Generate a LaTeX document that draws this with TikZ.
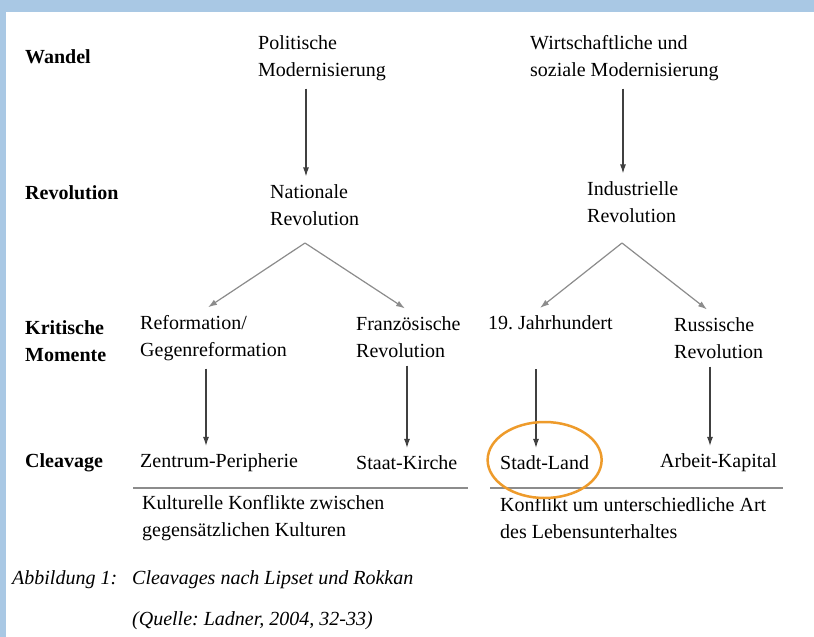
\documentclass[tikz,border=0pt]{standalone}
\usepackage{fontspec}
\IfFontExistsTF{LiberationSerif-Regular.ttf}
	{\setmainfont{LiberationSerif}[Extension=.ttf, UprightFont=*-Regular, BoldFont=*-Bold, ItalicFont=*-Italic, BoldItalicFont=*-BoldItalic]}
	{\setmainfont{Liberation Serif}}
\usepackage{tikz}
\usetikzlibrary{arrows,arrows.meta}

\definecolor{framebg}{HTML}{A9C8E4}
\definecolor{ringorange}{HTML}{EE9B2B}

\frenchspacing

\begin{document}
\begin{tikzpicture}[x=1pt,y=-1pt]

	\tikzstyle row labels=[anchor=west, inner sep=0pt, align=left, font=\fontsize{20}{27}\selectfont\bfseries];
	\tikzstyle item text=[anchor=west, inner sep=0pt, outer ysep=8pt, align=left, font=\fontsize{20}{27}\selectfont];
	\tikzstyle caption text=[anchor=west, inner sep=0pt, font=\fontsize{20}{27}\selectfont\itshape];
	\tikzstyle flow arrows=[-{Latex[length=9pt,width=6pt]}, draw=black!75, line width=1.2pt];
	\tikzstyle fork arrows=[-{Latex[length=9pt,width=6pt]}, draw=black!45, line width=1.2pt];
	\tikzstyle rule lines=[draw=black!45, line width=1.5pt];

	% frame
	\useasboundingbox (0,0) rectangle (814,637);
	\fill[white] (0,0) rectangle (814,637);
	\fill[framebg] (0,0) rectangle (814,12);
	\fill[framebg] (0,0) rectangle (6,637);

	% row labels
	\foreach \y/\nm/\txt in {57/wandel/Wandel,193/revol/Revolution,341/krit/{Kritische\\Momente},463/cleav/Cleavage}
		\node[row labels] (\nm) at (25,\y) {\txt};

	% Wandel / Revolution
	\node[item text] (polmod) at (258,58) {Politische\\Modernisierung};
	\node[item text] (wirtmod) at (530,58) {Wirtschaftliche und\\soziale Modernisierung};
	\node[item text] (natrev) at (270,205) {Nationale\\Revolution};
	\node[item text] (indrev) at (587,202) {Industrielle\\Revolution};

	% kritische Momente
	\node[item text] (reform) at (140,338) {Reformation/\\Gegenreformation};
	\node[item text] (franzrev) at (356,337) {Französische\\Revolution};
	\node[item text] (jahrh) at (488,323) {19. Jahrhundert};
	\node[item text] (russrev) at (674,338) {Russische\\Revolution};

	% cleavages
	\foreach \x/\nm/\txt in {140/zentrum/Zentrum-Peripherie,356/staat/Staat-Kirche,500/stadt/Stadt-Land,660/arbeit/Arbeit-Kapital}
		\node[item text] (\nm) at (\x,463) {\txt};

	\node[item text] (kultur) at (142,518) {Kulturelle Konflikte zwischen\\gegensätzlichen Kulturen};
	\node[item text] (lebens) at (500,518) {Konflikt um unterschiedliche Art\\des Lebensunterhaltes};

	% caption
	\node[caption text] (capnum) at (12,580) {Abbildung 1:};
	\node[caption text] (captxt) at (132,580) {Cleavages nach Lipset und Rokkan};
	\node[caption text] (quelle) at (132,621) {(Quelle: Ladner, 2004, 32-33)};

	% arrows
	\draw[flow arrows] ([xshift=48pt]polmod.south west) -- ([xshift=36pt]natrev.north west);
	\draw[flow arrows] ([xshift=93pt]wirtmod.south west) -- ([xshift=36pt]indrev.north west);

	\coordinate (natfork) at (305,243);
	\coordinate (indfork) at (622,243);
	\draw[fork arrows] (natfork) -- ([xshift=68pt]reform.north west);
	\draw[fork arrows] (natfork) -- ([xshift=49pt]franzrev.north west);
	\draw[fork arrows] (indfork) -- ([xshift=52pt]jahrh.north west);
	\draw[fork arrows] (indfork) -- ([xshift=33pt]russrev.north west);

	\draw[flow arrows] ([xshift=66pt]reform.south west) -- ([xshift=66pt]zentrum.north west);
	\draw[flow arrows] ([xshift=51pt]franzrev.south west) -- ([xshift=51pt]staat.north west);
	\draw[flow arrows] ([xshift=48pt,yshift=-31pt]jahrh.south west) -- ([xshift=36pt]stadt.north west);
	\draw[flow arrows] ([xshift=36pt]russrev.south west) -- ([xshift=50pt]arbeit.north west);

	% rules under the cleavages
	\draw[rule lines] (133,488) -- (468,488);
	\draw[rule lines] (490,488) -- (783,488);

	% highlight
	\draw[ringorange, line width=2.5pt] ([yshift=3pt]stadt.center) ellipse [x radius=57pt, y radius=38pt];

\end{tikzpicture}
\end{document}
